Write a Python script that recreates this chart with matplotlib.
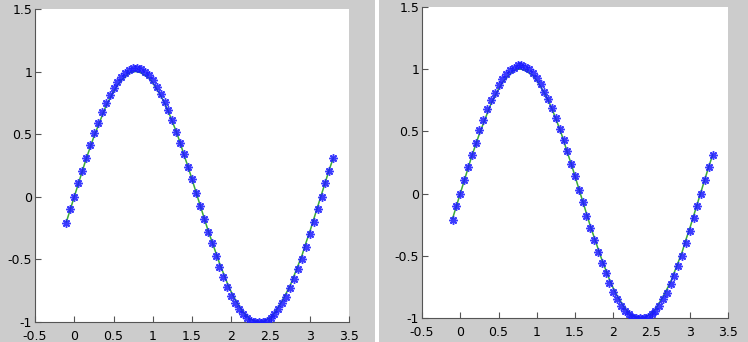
import matplotlib
matplotlib.use('Agg')
import matplotlib.pyplot as plt
from matplotlib.patches import Rectangle
from matplotlib.ticker import FormatStrFormatter, MultipleLocator

## Data ##
x_vals = [-0.10, -0.05, 0.00, 0.05, 0.10, 0.15, 0.20, 0.25, 0.30, 0.35,
          0.40, 0.45, 0.50, 0.55, 0.60, 0.65, 0.70, 0.75, 0.80, 0.85,
          0.90, 0.95, 1.00, 1.05, 1.10, 1.15, 1.20, 1.25, 1.30, 1.35,
          1.40, 1.45, 1.50, 1.55, 1.60, 1.65, 1.70, 1.75, 1.80, 1.85,
          1.90, 1.95, 2.00, 2.05, 2.10, 2.15, 2.20, 2.25, 2.30, 2.35,
          2.40, 2.45, 2.50, 2.55, 2.60, 2.65, 2.70, 2.75, 2.80, 2.85,
          2.90, 2.95, 3.00, 3.05, 3.10, 3.15, 3.20, 3.25, 3.30]

# green curve
fit_vals = [-0.20, -0.10, 0.00, 0.10, 0.20, 0.30, 0.39, 0.48, 0.56, 0.64,
            0.72, 0.78, 0.84, 0.89, 0.93, 0.96, 0.99, 1.00, 1.00, 0.99,
            0.97, 0.95, 0.91, 0.86, 0.81, 0.75, 0.68, 0.60, 0.52, 0.43,
            0.33, 0.24, 0.14, 0.04, -0.06, -0.16, -0.26, -0.35, -0.44, -0.53,
            -0.61, -0.69, -0.76, -0.82, -0.87, -0.92, -0.95, -0.98, -0.99, -1.00,
            -1.00, -0.98, -0.96, -0.93, -0.88, -0.83, -0.77, -0.71, -0.63, -0.55,
            -0.47, -0.37, -0.28, -0.18, -0.08, 0.02, 0.12, 0.22, 0.31]

# blue asterisk markers
data_vals = [-0.21, -0.10, 0.00, 0.11, 0.21, 0.31, 0.41, 0.51, 0.59, 0.68,
             0.75, 0.81, 0.87, 0.92, 0.96, 0.99, 1.01, 1.03, 1.03, 1.02,
             1.00, 0.97, 0.93, 0.88, 0.82, 0.76, 0.69, 0.61, 0.52, 0.43,
             0.34, 0.24, 0.14, 0.03, -0.07, -0.18, -0.28, -0.37, -0.47, -0.56,
             -0.64, -0.72, -0.79, -0.85, -0.90, -0.94, -0.97, -0.99, -1.00, -1.00,
             -1.00, -0.99, -0.97, -0.94, -0.90, -0.85, -0.80, -0.73, -0.66, -0.58,
             -0.50, -0.40, -0.30, -0.20, -0.10, 0.00, 0.11, 0.21, 0.31]

X_LIMS = (-0.5, 3.5)
Y_LIMS = (-1, 1.5)

PANEL_GRAY = '#cccccc'
LINE_GREEN = '#3aaa3a'
MARK_BLUE = '#1a1aff'

fig = plt.figure(figsize=(7.48, 3.42), dpi=100, facecolor='white')

# grey figure backgrounds for the two panels (white strip between)
fig.add_artist(Rectangle((0, 0), 375 / 748, 1, transform=fig.transFigure,
                         facecolor=PANEL_GRAY, edgecolor='none', zorder=-10))
fig.add_artist(Rectangle((379 / 748, 0), 369 / 748, 1, transform=fig.transFigure,
                         facecolor=PANEL_GRAY, edgecolor='none', zorder=-10))

positions = [
    [35 / 748, (342 - 322) / 342, 314 / 748, 313 / 342],
    [422 / 748, (342 - 318) / 342, 306 / 748, 311 / 342],
]

for pos in positions:
    ax = fig.add_axes(pos)
    ax.set_facecolor('white')
    ax.plot(x_vals, fit_vals, color=LINE_GREEN, linewidth=1.1, zorder=2)
    ax.plot(x_vals, data_vals, linestyle='none', marker=(8, 2, 0), markersize=6,
            markeredgewidth=1.1, color=MARK_BLUE, alpha=0.85, zorder=3)
    ax.set_xlim(*X_LIMS)
    ax.set_ylim(*Y_LIMS)
    ax.xaxis.set_major_locator(MultipleLocator(0.5))
    ax.yaxis.set_major_locator(MultipleLocator(0.5))
    ax.xaxis.set_major_formatter(FormatStrFormatter('%g'))
    ax.yaxis.set_major_formatter(FormatStrFormatter('%g'))
    ax.spines['right'].set_visible(False)
    ax.spines['top'].set_visible(False)
    ax.spines['left'].set_color('#555555')
    ax.spines['bottom'].set_color('#555555')
    ax.tick_params(direction='in', length=4, width=0.8, color='#555555',
                   labelsize=9, labelcolor='black')
    ax.tick_params(axis='x', pad=5.5)
    ax.tick_params(axis='y', pad=2)

fig.savefig('out.png', dpi=100, facecolor=fig.get_facecolor())
